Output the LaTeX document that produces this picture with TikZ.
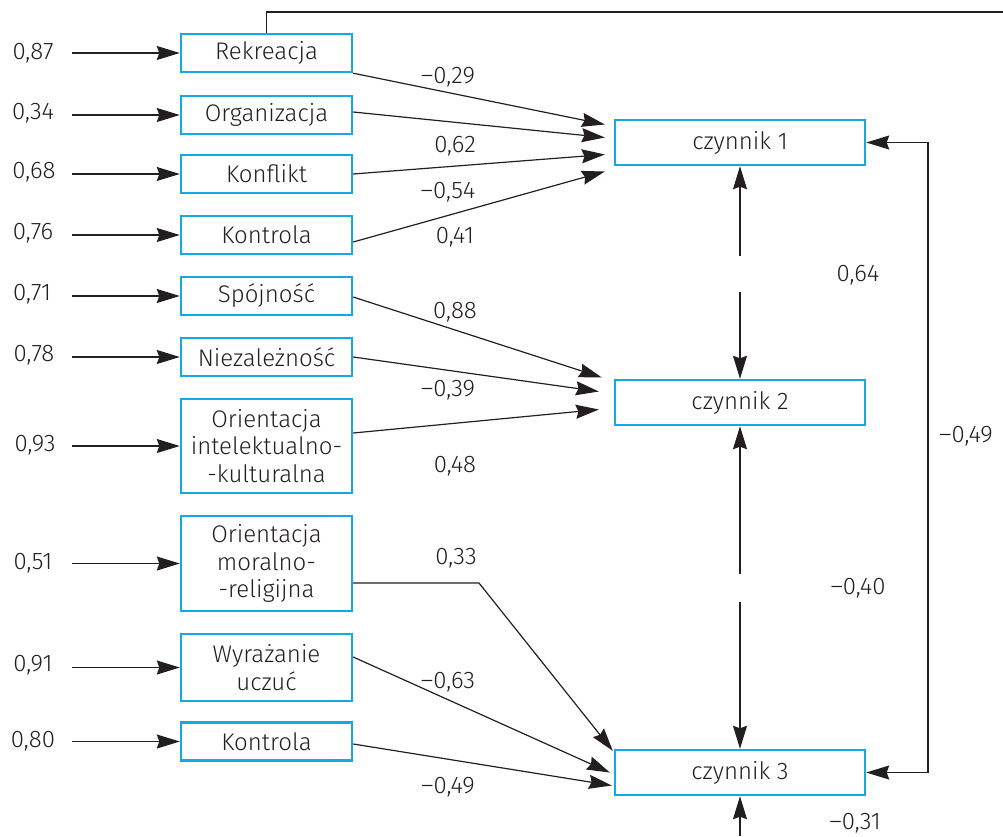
\documentclass[tikz,border=0pt]{standalone}
\usepackage{fontspec}
\setmainfont{Fira Sans Light}
\usetikzlibrary{arrows.meta,calc}
\definecolor{boxc}{HTML}{16A9E1}
\definecolor{ink}{HTML}{231F20}
\begin{document}
\begin{tikzpicture}[x=1pt,y=-1pt,
  font=\fontsize{24}{27.5}\selectfont, text=ink,
  vbox/.style={draw=boxc, line width=2.4pt, minimum width=171pt, minimum height=38pt, align=center, inner sep=0pt},
  fbox/.style={draw=boxc, line width=2.4pt, minimum width=250pt, minimum height=45pt, inner sep=0pt},
  tip/.tip={Stealth[length=23pt,width=14pt,inset=2.5pt]},
  arr/.style={draw=ink, line width=1.2pt, -tip},
  ln/.style={draw=ink, line width=1.2pt},
  lab/.style={inner sep=0pt}]
\useasboundingbox (0,0) rectangle (1003,836);
\coordinate (lx) at (72,0);
% left boxes
\node[vbox] (rek) at (266.5,53) {Rekreacja};
\node[vbox] (org) at (266.5,115) {Organizacja};
\node[vbox] (kof) at (266.5,174) {Konflikt};
\node[vbox] (ko1) at (266.5,235) {Kontrola};
\node[vbox] (spo) at (266.5,296) {Spójność};
\node[vbox] (nie) at (266.5,357) {Niezależność};
\node[vbox, minimum height=94pt] (oik) at (266.5,446) {Orientacja\\intelektualno-\\-kulturalna};
\node[vbox, minimum height=95pt] (omr) at (266.5,563.5) {Orientacja\\moralno-\\-religijna};
\node[vbox, minimum height=67pt] (wyr) at (266.5,667.5) {Wyrażanie\\uczuć};
\node[vbox] (ko2) at (266.5,741.5) {Kontrola};
% error terms
\node[lab] (e1) at (33,53) {0,87};
\node[lab] (e2) at (33,113) {0,34};
\node[lab] (e3) at (34,172) {0,68};
\node[lab] (e4) at (33,233) {0,76};
\node[lab] (e5) at (32,294) {0,71};
\node[lab] (e6) at (34,355) {0,78};
\node[lab] (e7) at (35,445) {0,93};
\node[lab] (e8) at (33,563) {0,51};
\node[lab] (e9) at (33,665) {0,91};
\node[lab] (e10) at (33,741) {0,80};
\foreach \b in {rek,org,kof,ko1,spo,nie,oik,omr,wyr,ko2}
  \draw[arr] (\b.west -| lx) -- (\b.west);
% factors
\node[fbox] (c1) at (740,142.5) {czynnik 1};
\node[fbox] (c2) at (740,402.5) {czynnik 2};
\node[fbox] (c3) at (740,772.5) {czynnik 3};
% paths to c1
\draw[arr] (rek.south east) -- ([shift={(-9,-18)}]c1.west);
\draw[arr] ([shift={(0,-3)}]org.east) -- ([shift={(-9,-5)}]c1.west);
\draw[arr] (kof.east) -- ([shift={(-9,12)}]c1.west);
\draw[arr] ([shift={(0,7)}]ko1.east) -- ([shift={(-9,29)}]c1.west);
\node[lab] at (448,77) {–0,29};
\node[lab] at (455,146) {0,62};
\node[lab] at (448,192) {–0,54};
\node[lab] at (455,237) {0,41};
% paths to c2
\draw[arr] ([shift={(0,1)}]spo.east) -- ([shift={(-12,-25)}]c2.west);
\draw[arr] (nie.east) -- ([shift={(-15,-11)}]c2.west);
\draw[arr] ([shift={(0,-13)}]oik.east) -- ([shift={(-15,7)}]c2.west);
\node[lab] at (455,312) {0,88};
\node[lab] at (448,390) {–0,39};
\node[lab] at (455,466) {0,48};
% paths to c3
\coordinate (bend) at (479,583);
\draw[arr] ([shift={(0,19.5)}]omr.east) -- (bend) -- ([shift={(-1,2)}]c3.north west);
\draw[arr] ([shift={(0,-10.5)}]wyr.east) -- ([shift={(-4,0)}]c3.west);
\draw[arr] ([shift={(0,2.5)}]ko2.east) -- ([shift={(-2,13)}]c3.west);
\node[lab] at (456,558) {0,33};
\node[lab] at (448,682) {–0,63};
\node[lab] at (448,787) {–0,49};
% correlations between factors
\coordinate (g1) at (740,256);
\coordinate (g2) at (740,292);
\coordinate (g3) at (740,574);
\coordinate (g4) at (740,602);
\draw[arr] (g1) -- (c1.south);
\draw[arr] (g2) -- (c2.north);
\draw[arr] (g3) -- (c2.south);
\draw[arr] (g4) -- (c3.north);
\node[lab] at (858,275) {0,64};
\node[lab] at (858,588) {–0,40};
\coordinate (rx) at (928,0);
\draw[arr, tip-tip] (c1.east) -- (c1.east -| rx) -- (c3.east -| rx) -- (c3.east);
\node[lab] at (966,436) {–0,49};
% bottom and top
\coordinate (bot) at (740,836);
\draw[arr] (bot) -- (c3.south);
\node[lab] at (855,823) {–0,31};
\coordinate (tr) at (1003,12);
\draw[ln] (rek.north) -- (rek.north |- tr) -- (tr);
\end{tikzpicture}
\end{document}
